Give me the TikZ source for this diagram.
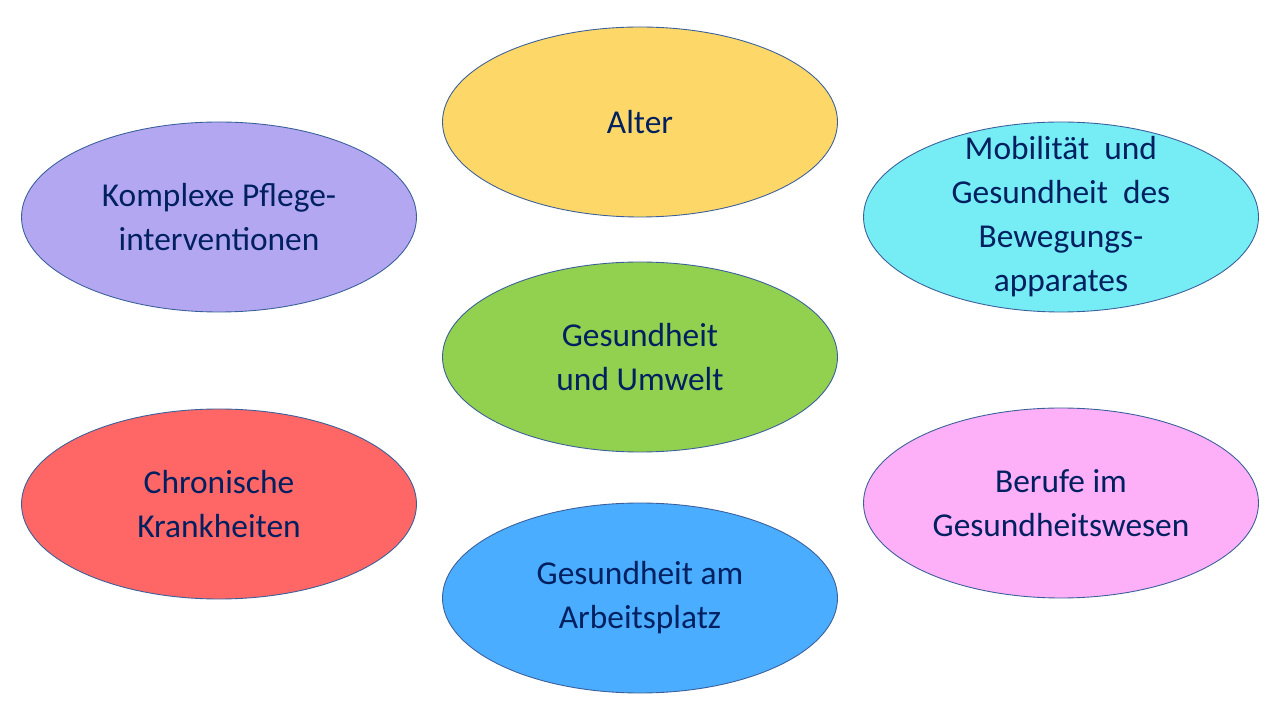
\documentclass[tikz,border=0pt]{standalone}
\usepackage{fontspec}
\setmainfont{Carlito}
\usetikzlibrary{shapes.geometric}
\definecolor{navytext}{HTML}{002060}
\definecolor{rimblue}{HTML}{3A5F9A}
\definecolor{fillalter}{HTML}{FDD868}
\definecolor{fillpflege}{HTML}{B4A7F2}
\definecolor{fillmobil}{HTML}{76ECF4}
\definecolor{fillumwelt}{HTML}{92D050}
\definecolor{fillchron}{HTML}{FF6666}
\definecolor{fillberuf}{HTML}{FDAFF8}
\definecolor{fillarbeit}{HTML}{4AADFF}
\tikzset{
    topic/.style={draw=rimblue, line width=0.5pt, ellipse, minimum width=7.9cm, minimum height=3.8cm,
        inner sep=0pt, align=center, text=navytext,
        font=\fontsize{19}{25}\selectfont}
}
\begin{document}
\begin{tikzpicture}
        \useasboundingbox (0, 0) rectangle (25.6, 14.4);

        \node[name=alter, topic, fill=fillalter] at (12.8, 11.96) {Alter};
        \node[name=pflege, topic, fill=fillpflege] at (4.38, 10.06) {Komplexe Pflege-\\interventionen};
        \node[name=mobil, topic, fill=fillmobil, inner ysep=-16pt] at (21.22, 10.06) {Mobilität \ und\\Gesundheit \ des\\Bewegungs-\\apparates};
        \node[name=umwelt, topic, fill=fillumwelt] at (12.8, 7.26) {Gesundheit\\und Umwelt};
        \node[name=chron, topic, fill=fillchron] at (4.38, 4.32) {Chronische\\Krankheiten};
        \node[name=beruf, topic, fill=fillberuf] at (21.22, 4.34) {Berufe im\\Gesundheitswesen};
        \node[name=arbeit, topic, fill=fillarbeit] at (12.8, 2.44) {Gesundheit am\\Arbeitsplatz};
    \end{tikzpicture}
\end{document}
